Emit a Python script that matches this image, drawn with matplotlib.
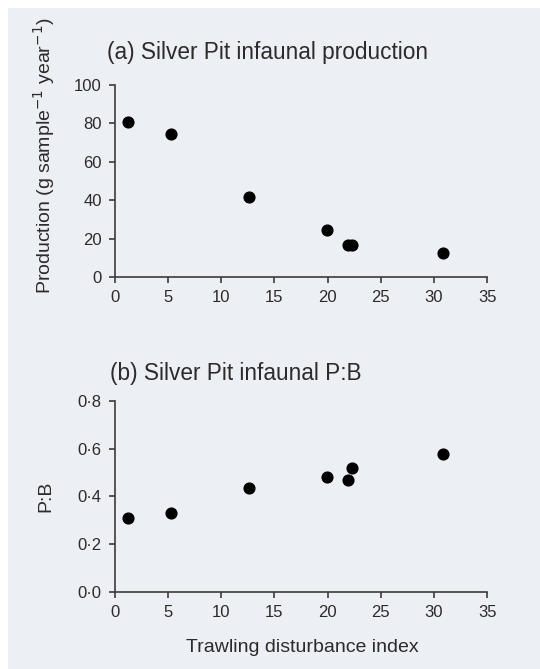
import matplotlib.pyplot as plt
from matplotlib.patches import Rectangle
from matplotlib.ticker import FuncFormatter

plt.rcParams['font.family'] = ['Liberation Sans', 'DejaVu Sans']

# trawling disturbance index for the seven stations
trawl_index = [1.25, 5.25, 12.6, 19.9, 21.9, 22.3, 30.9]
# infaunal production, g sample^-1 year^-1
production = [80.6, 74.5, 41.6, 24.3, 16.5, 16.8, 12.3]
# production : biomass ratio
pb_ratio = [0.308, 0.330, 0.436, 0.482, 0.470, 0.520, 0.578]

x_ticks = [0, 5, 10, 15, 20, 25, 30, 35]
prod_ticks = [0, 20, 40, 60, 80, 100]
pb_ticks = [0.0, 0.2, 0.4, 0.6, 0.8]

ink = '#2b2b2b'
page = '#eceff4'

fig = plt.figure(figsize=(5.4, 6.69), dpi=100, facecolor='white')
fig.patches.append(Rectangle((8 / 540, -0.1), 1.1, 1.1 - 8 / 669, transform=fig.transFigure,
                             facecolor=page, edgecolor='none', zorder=-1))


def style(ax, yticks, ylim, fmt=None):
    ax.set_facecolor('none')
    for s in ('top', 'right'):
        ax.spines[s].set_visible(False)
    for s in ('left', 'bottom'):
        ax.spines[s].set_color('#3c3c3c')
        ax.spines[s].set_linewidth(1.2)
    ax.set_xlim(0, 35)
    ax.set_ylim(*ylim)
    ax.set_xticks(x_ticks)
    ax.set_yticks(yticks)
    if fmt:
        ax.yaxis.set_major_formatter(FuncFormatter(fmt))
    ax.tick_params(direction='out', length=4.5, width=1.2, color='#3c3c3c',
                   labelsize=12, labelcolor=ink, pad=5)


ax1 = fig.add_axes([0.213, 0.586, 0.689, 0.287])
ax1.scatter(trawl_index, production, s=60, color='black', zorder=3, clip_on=False)
style(ax1, prod_ticks, (0, 100))
fig.text(44 / 540, 1 - 156 / 669, 'Production (g sample$^{-1}$ year$^{-1}$)', fontsize=14,
         color=ink, rotation=90, ha='center', va='center')
fig.text(0.198, 0.921, '(a) Silver Pit infaunal production', fontsize=16.3,
         color=ink, va='center')

ax2 = fig.add_axes([0.213, 0.115, 0.689, 0.286])
ax2.scatter(trawl_index, pb_ratio, s=60, color='black', zorder=3, clip_on=False)
style(ax2, pb_ticks, (0, 0.8), lambda v, p: f'{v:.1f}'.replace('.', '·'))
fig.text(46 / 540, 1 - 496 / 669, 'P:B', fontsize=14, color=ink,
         rotation=90, ha='center', va='center')
fig.text(302 / 540, 1 - 647 / 669, 'Trawling disturbance index', fontsize=14,
         color=ink, ha='center', va='center')
fig.text(0.204, 0.442, '(b) Silver Pit infaunal P:B', fontsize=16.3,
         color=ink, va='center')

fig.savefig('out.png', dpi=100, facecolor=fig.get_facecolor())
